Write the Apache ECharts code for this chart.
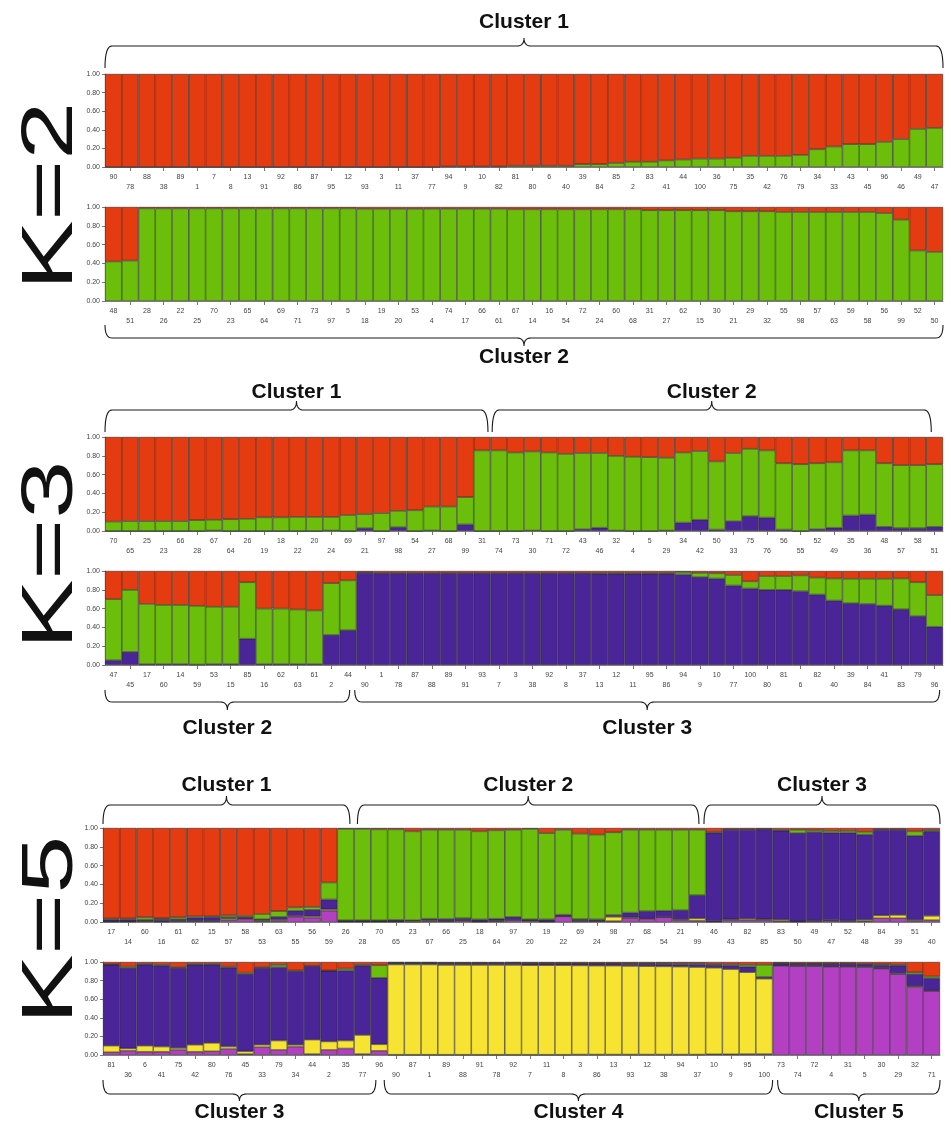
<!DOCTYPE html>
<html><head><meta charset="utf-8">
<script src="https://cdn.jsdelivr.net/npm/echarts@6/dist/echarts.min.js"></script>
<style>html,body{margin:0;padding:0;background:#fff}#c{width:951px;height:1124px}</style>
</head><body><div id="c"></div>
<script>
// ---------- DATA ----------
const k2aLabels = [90,78,88,38,89,1,7,8,13,91,92,86,87,95,12,93,3,11,37,77,94,9,10,82,81,80,6,40,39,84,85,2,83,41,44,100,36,75,35,42,76,79,34,33,43,45,96,46,49,47];
const k2bLabels = [48,51,28,26,22,25,70,23,65,64,69,71,73,97,5,18,19,20,53,4,74,17,66,61,67,14,16,54,72,24,60,68,31,27,62,15,30,21,29,32,55,98,57,63,59,58,56,99,52,50];
const k3aLabels = [70,65,25,23,66,28,67,64,26,19,18,22,20,24,69,21,97,98,54,27,68,99,31,74,73,30,71,72,43,46,32,4,5,29,34,42,50,33,75,76,56,55,52,49,35,36,48,57,58,51];
const k3bLabels = [47,45,17,60,14,59,53,15,85,16,62,63,61,2,44,90,1,78,87,88,89,91,93,7,3,38,92,8,37,13,12,11,95,86,94,9,10,77,100,80,81,6,82,40,39,84,41,83,79,96];
const k5aLabels = [17,14,60,16,61,62,15,57,58,53,63,55,56,59,26,28,70,65,23,67,66,25,18,64,97,20,19,22,69,24,98,27,68,54,21,99,46,43,82,85,83,50,49,47,52,48,84,39,51,40];
const k5bLabels = [81,36,6,41,75,42,80,76,45,33,79,34,44,2,35,77,96,90,87,1,89,88,91,78,92,7,11,8,3,86,13,93,12,38,94,37,10,9,95,100,73,74,72,4,31,5,30,29,32,71];

// K=2 (green share; red is the remainder)
const k2aGreen = [0,0,0,0,0,0,0,0,0,0, 0,0,0,0,0,0,0,0,0,0, .005,.005,.005,.005,.014,.014,.014,.014,.03,.03, .043,.057,.057,.07,.08,.09,.09,.10,.12,.12, .12,.13,.19,.22,.245,.245,.27,.30,.41,.42];
const k2bGreen = [.42,.43,.985,.985,.985,.985,.985,.985,.985,.985, .985,.985,.985,.985,.985,.98,.98,.98,.98,.98, .98,.98,.98,.98,.975,.975,.975,.975,.975,.975, .975,.975,.965,.965,.965,.965,.965,.954,.954,.954, .947,.947,.947,.947,.947,.947,.936,.866,.537,.523];

// K=3 (purple, green; red remainder)
const k3aPurple = [0,0,0,0,0,0,.005,0,0,0, 0,0,0,.005,0,.03,0,.04,0,.005, 0,.07,0,0,0,.005,0,0,.02,.035, .005,0,0,.005,.09,.12,.015,.105,.157,.143, .015,0,.02,.035,.165,.175,.045,.03,.03,.045];
const k3aGreen = [.10,.105,.105,.105,.105,.115,.115,.125,.13,.145, .145,.15,.15,.145,.17,.15,.19,.175,.22,.255, .26,.29,.857,.857,.835,.841,.835,.82,.81,.795, .795,.79,.785,.775,.745,.73,.725,.725,.718,.714, .705,.71,.70,.695,.692,.682,.675,.67,.67,.665];
const k3bPurple = [.05,.14,.01,.01,.01,.005,.01,.01,.28,.01, .01,.01,.01,.32,.37,.98,.975,.975,.975,.975, .975,.975,.975,.975,.975,.975,.975,.975,.975,.97, .97,.97,.97,.97,.964,.936,.92,.846,.814,.80, .80,.786,.75,.686,.657,.65,.632,.593,.52,.407];
const k3bGreen = [.65,.66,.64,.63,.63,.625,.61,.61,.60,.59, .59,.58,.57,.55,.53,.005,.005,.005,.005,.005, .005,.005,.005,.005,.005,.005,.005,.005,.005,.01, .01,.01,.01,.01,.026,.044,.055,.111,.076,.146, .146,.167,.18,.234,.261,.268,.286,.327,.36,.336];

// K=5 (magenta, yellow, purple, green; red remainder)
const k5aMag = [.005,.005,.01,.005,.01,.01,.01,.02,.035,.01, .015,.055,.045,.12,.005,.005,.005,.005,.005,.01, .01,.015,.005,.01,.02,.015,.005,.06,.01,.01, .01,.04,.035,.05,.02,.015,.005,.02,.02,.02, .01,.005,.01,.015,.01,.01,.04,.04,.015,.02];
const k5aYel = [.003,.003,.005,.005,.005,.005,.005,.015,.005,.01, .01,.01,.015,.015,.003,.003,.003,.003,.01,.01, .003,.005,.003,.005,.005,.003,.003,.003,.005,.003, .045,.01,.005,.005,.01,.025,.005,.01,.015,.01, .015,.003,.005,.005,.005,.015,.03,.035,.01,.045];
const k5aPur = [.02,.02,.01,.02,.015,.03,.035,.015,.01,.01, .03,.055,.07,.105,.01,.01,.01,.015,.005,.015, .02,.02,.02,.02,.03,.01,.02,.015,.015,.015, .02,.05,.075,.065,.095,.245,.94,.95,.945,.955, .945,.938,.94,.93,.935,.905,.91,.905,.893,.90];
const k5aGrn = [.01,.01,.025,.01,.02,.015,.01,.02,.015,.055, .06,.035,.03,.18,.972,.972,.967,.962,.944,.945, .947,.94,.936,.94,.925,.962,.918,.902,.91,.902, .879,.88,.865,.86,.855,.695,.01,.005,.005,.005, .01,.035,.02,.02,.02,.03,.005,.005,.046,.015];
const k5bMag = [.03,.045,.035,.035,.055,.035,.04,.065,.01,.085, .055,.09,.01,.055,.07,.01,.045,.003,.003,.003, .003,.003,.003,.003,.003,.003,.003,.003,.005,.005, .005,.005,.005,.005,.005,.005,.008,.008,.01,.01, .96,.955,.955,.95,.95,.945,.93,.87,.73,.69];
const k5bYel = [.07,.025,.065,.055,.02,.075,.09,.025,.03,.025, .10,.02,.155,.09,.085,.205,.07,.97,.97,.97, .965,.965,.965,.965,.965,.962,.962,.962,.958,.955, .955,.952,.95,.948,.945,.94,.93,.915,.88,.81, .005,.005,.005,.005,.005,.005,.005,.01,.01,.005];
const k5bPur = [.87,.865,.87,.87,.86,.86,.84,.85,.83,.825, .79,.79,.79,.76,.755,.745,.715,.015,.015,.015, .018,.018,.018,.018,.02,.02,.02,.02,.02,.022, .022,.022,.025,.025,.025,.03,.03,.04,.06,.02, .02,.02,.02,.025,.025,.025,.03,.08,.13,.13];
const k5bGrn = [.005,.015,.01,.01,.01,.01,.01,.01,.015,.01, .025,.01,.005,.005,.02,.01,.135,.005,.005,.005, .005,.005,.005,.005,.005,.005,.005,.005,.005,.005, .005,.008,.008,.01,.01,.01,.01,.01,.02,.13, .005,.005,.005,.005,.005,.005,.01,.01,.02,.02];

// cluster brackets: [panel, from bar, to bar, name]
const clustersTop = [[0, 0, 50, 'Cluster 1'], [2, 0, 22.85, 'Cluster 1'], [2, 23.1, 49.3, 'Cluster 2'],
  [4, 0, 14.75, 'Cluster 1'], [4, 15.2, 35.6, 'Cluster 2'], [4, 35.9, 50, 'Cluster 3']];
const clustersBottom = [[1, 0, 50, 'Cluster 2'], [3, 0, 14.6, 'Cluster 2'], [3, 14.9, 49.8, 'Cluster 3'],
  [5, 0, 16.3, 'Cluster 3'], [5, 16.8, 40.0, 'Cluster 4'], [5, 40.3, 50, 'Cluster 5']];
const kLabels = ['K=2', 'K=3', 'K=5'];

// ---------- STYLE / LAYOUT ----------
const RED = '#E43B10', GREEN = '#6BBE0A', PURPLE = '#4A2598', YELLOW = '#F7E331', MAGENTA = '#B340C3';
const panels = [
  { labels: k2aLabels, comps: [[k2aGreen, GREEN]], grid: { left: 105, right: 8, top: 74, height: 93 } },
  { labels: k2bLabels, comps: [[k2bGreen, GREEN]], grid: { left: 105, right: 8, top: 207, height: 94 } },
  { labels: k3aLabels, comps: [[k3aPurple, PURPLE], [k3aGreen, GREEN]], grid: { left: 105, right: 8, top: 437, height: 94 } },
  { labels: k3bLabels, comps: [[k3bPurple, PURPLE], [k3bGreen, GREEN]], grid: { left: 105, right: 8, top: 571, height: 94 } },
  { labels: k5aLabels, comps: [[k5aMag, MAGENTA], [k5aYel, YELLOW], [k5aPur, PURPLE], [k5aGrn, GREEN]], grid: { left: 103, right: 11, top: 828, height: 94 } },
  { labels: k5bLabels, comps: [[k5bMag, MAGENTA], [k5bYel, YELLOW], [k5bPur, PURPLE], [k5bGrn, GREEN]], grid: { left: 103, right: 11, top: 962, height: 93 } }
];
const topOff = { 0: [-52, -36, -28, -6], 2: [-45, -36, -27, -5], 4: [-43, -32, -23, -4] };   // text, tip, line, end
const botOff = { 1: [56, 45, 37, 24], 3: [63, 45, 37, 25], 5: [57, 46, 39, 25] };
const kPos = [[52, 196], [52, 555], [52, 930]];

const chart = echarts.init(document.getElementById('c'), null, { renderer: 'canvas' });
const grids = [], xAxes = [], yAxes = [], series = [];
panels.forEach((p, gi) => {
  grids.push(Object.assign({ containLabel: false }, p.grid));
  xAxes.push({
    type: 'category', gridIndex: gi, data: p.labels.map(String),
    axisLine: { show: true, lineStyle: { color: '#8a8a8a', width: 1 } },
    axisTick: { show: true, alignWithLabel: true, length: 4, interval: (i) => i % 2 === 1, lineStyle: { color: '#777' } },
    axisLabel: { interval: 0, fontSize: 7, color: '#444', fontFamily: 'Liberation Sans', margin: 5, lineHeight: 10,
      formatter: (v, i) => (i % 2 === 1 ? '\n' + v : v) }
  });
  yAxes.push({
    type: 'value', gridIndex: gi, min: 0, max: 1, interval: 0.2,
    axisLine: { show: true, lineStyle: { color: '#8a8a8a' } },
    axisTick: { show: true, length: 3, lineStyle: { color: '#777' } },
    splitLine: { show: false },
    axisLabel: { fontSize: 7, color: '#444', fontFamily: 'Liberation Sans', margin: 5, formatter: (v) => v.toFixed(2) }
  });
  const sums = p.labels.map(() => 0);
  const addSeries = (data, color) => series.push({
    type: 'bar', xAxisIndex: gi, yAxisIndex: gi, stack: 's' + gi, data: data,
    barWidth: '100%', barCategoryGap: '0%',
    itemStyle: { color: color, borderColor: '#222', borderWidth: 0.55 },
    emphasis: { disabled: true }, silent: true
  });
  p.comps.forEach(([arr, color]) => { arr.forEach((v, i) => sums[i] += v); addSeries(arr, color); });
  addSeries(sums.map(s => Math.max(0, +(1 - s).toFixed(4))), RED);
});

chart.setOption({ animation: false, backgroundColor: '#fff', grid: grids, xAxis: xAxes, yAxis: yAxes, series: series });

// ---------- brackets and labels ----------
function barEdge(gi, pos) {
  const a = chart.convertToPixel({ xAxisIndex: gi }, 0);
  const b = chart.convertToPixel({ xAxisIndex: gi }, 1);
  const w = b - a;
  return a - w / 2 + pos * w;
}
function quad(pts, p0, c, p1) {
  for (let t = 1; t <= 8; t++) {
    const s = t / 8;
    pts.push([(1 - s) * (1 - s) * p0[0] + 2 * (1 - s) * s * c[0] + s * s * p1[0],
              (1 - s) * (1 - s) * p0[1] + 2 * (1 - s) * s * c[1] + s * s * p1[1]]);
  }
}
function bracePoints(x1, x2, yEnd, yLine, yTip) {
  const xm = (x1 + x2) / 2, r = 7;
  const pts = [[x1, yEnd]];
  quad(pts, [x1, yEnd], [x1, yLine], [x1 + r, yLine]);
  pts.push([xm - r, yLine]);
  quad(pts, [xm - r, yLine], [xm, yLine], [xm, yTip]);
  quad(pts, [xm, yTip], [xm, yLine], [xm + r, yLine]);
  pts.push([x2 - r, yLine]);
  quad(pts, [x2 - r, yLine], [x2, yLine], [x2, yEnd]);
  return pts;
}
const graphic = [];
function addBrace(c, top) {
  const [gi, from, to, name] = c;
  const x1 = barEdge(gi, from), x2 = barEdge(gi, to);
  const base = top ? chart.convertToPixel({ yAxisIndex: gi }, 1) : chart.convertToPixel({ yAxisIndex: gi }, 0);
  const o = top ? topOff[gi] : botOff[gi];
  graphic.push({ type: 'polyline', silent: true, shape: { points: bracePoints(x1, x2, base + o[3], base + o[2], base + o[1]) },
    style: { fill: null, stroke: '#1a1a1a', lineWidth: 1.1 } });
  graphic.push({ type: 'text', silent: true, style: { text: name, x: (x1 + x2) / 2, y: base + o[0], textAlign: 'center', textVerticalAlign: 'middle',
    font: 'bold 21px "Liberation Sans", Arial, sans-serif', fill: '#111' } });
}
clustersTop.forEach(c => addBrace(c, true));
clustersBottom.forEach(c => addBrace(c, false));
kLabels.forEach((t, i) => graphic.push({ type: 'text', silent: true, x: kPos[i][0], y: kPos[i][1], rotation: Math.PI / 2, scaleX: 1.45,
  style: { text: t, x: 0, y: 0, textAlign: 'center', textVerticalAlign: 'middle', font: '72px "Liberation Sans", Arial, sans-serif', fill: '#111' } }));
chart.setOption({ graphic: graphic });
</script></body></html>
